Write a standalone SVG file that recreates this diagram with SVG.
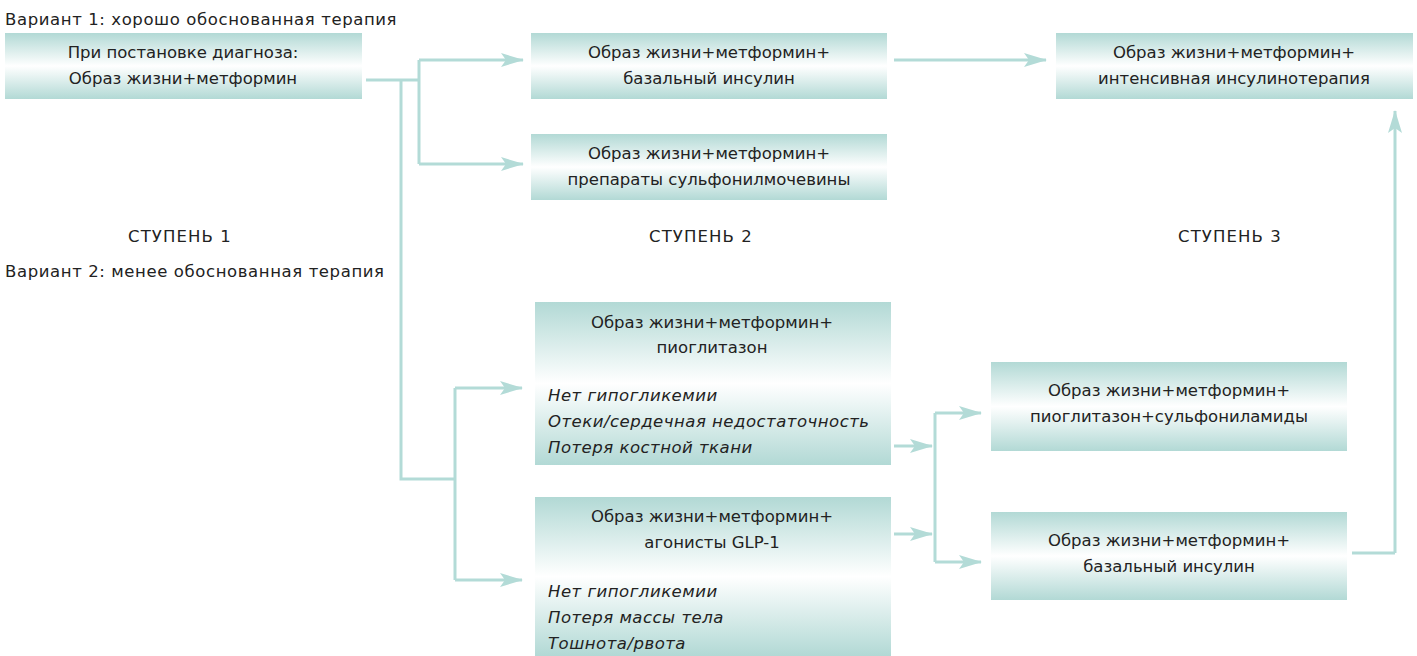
<svg xmlns="http://www.w3.org/2000/svg" width="1417" height="656" viewBox="0 0 1417 656">
<defs>
<linearGradient id="g" x1="0" y1="0" x2="0" y2="1">
<stop offset="0" stop-color="#b2d9d5"/>
<stop offset="0.5" stop-color="#ffffff"/>
<stop offset="1" stop-color="#b2d9d5"/>
</linearGradient>
<marker id="ah" markerUnits="userSpaceOnUse" markerWidth="24" markerHeight="14" refX="22" refY="7" orient="auto">
<path d="M0,0 L23,7 L0,14 L5,7 Z" fill="#b3dbd7"/>
</marker>
<style>
.box{fill:url(#g);}
.t{font-family:"DejaVu Sans",sans-serif;font-size:16.5px;fill:#222;text-anchor:middle;}
.s{font-family:"DejaVu Sans",sans-serif;font-size:16.5px;fill:#222;text-anchor:middle;letter-spacing:1.1px;}
.l{font-family:"DejaVu Sans",sans-serif;font-size:16.5px;fill:#222;letter-spacing:0.6px;}
.i{font-family:"DejaVu Sans",sans-serif;font-size:16.5px;fill:#222;font-style:italic;letter-spacing:0.5px;}
.c{fill:none;stroke:#b3dbd7;stroke-width:3;}
.a{fill:none;stroke:#b3dbd7;stroke-width:3;marker-end:url(#ah);}
</style>
</defs>
<rect width="1417" height="656" fill="#fff"/>
<g id="labels">
<text class="l" x="5" y="25">Вариант 1: хорошо обоснованная терапия</text>
<text class="s" x="180" y="242">СТУПЕНЬ 1</text>
<text class="s" x="701" y="242">СТУПЕНЬ 2</text>
<text class="s" x="1230" y="242">СТУПЕНЬ 3</text>
<text class="l" x="5" y="277">Вариант 2: менее обоснованная терапия</text>
</g>
<g id="connectors">
<path class="c" d="M366,80 H419 M419,60 V164 M401,80 V479 H455 M455,388 V580 M935,413 V562 M1352,553 H1395"/>
<path class="a" d="M419,60 H523"/>
<path class="a" d="M419,164 H523"/>
<path class="a" d="M894,60 H1046"/>
<path class="a" d="M455,388 H522"/>
<path class="a" d="M455,580 H522"/>
<path class="a" d="M894,446 H932"/>
<path class="a" d="M894,534 H932"/>
<path class="a" d="M935,413 H981"/>
<path class="a" d="M935,562 H981"/>
<path class="a" d="M1395,553 V111"/>
</g>
<g id="n1"><rect class="box" x="5" y="33" width="357" height="66"/>
<text class="t" x="183" y="58">При постановке диагноза:</text>
<text class="t" x="183" y="84">Образ жизни+метформин</text></g>
<g id="n2"><rect class="box" x="531" y="33" width="356" height="66"/>
<text class="t" x="709" y="58">Образ жизни+метформин+</text>
<text class="t" x="709" y="84">базальный инсулин</text></g>
<g id="n3"><rect class="box" x="531" y="134" width="356" height="66"/>
<text class="t" x="709" y="159">Образ жизни+метформин+</text>
<text class="t" x="709" y="185">препараты сульфонилмочевины</text></g>
<g id="n4"><rect class="box" x="1056" y="33" width="357" height="66"/>
<text class="t" x="1234" y="58">Образ жизни+метформин+</text>
<text class="t" x="1234" y="84">интенсивная инсулинотерапия</text></g>
<g id="n5"><rect class="box" x="535" y="302" width="356" height="163"/>
<text class="t" x="712" y="328">Образ жизни+метформин+</text>
<text class="t" x="712" y="353">пиоглитазон</text>
<text class="i" x="548" y="401">Нет гипогликемии</text>
<text class="i" x="548" y="427">Отеки/сердечная недостаточность</text>
<text class="i" x="548" y="453">Потеря костной ткани</text></g>
<g id="n6"><rect class="box" x="535" y="497" width="356" height="159"/>
<text class="t" x="712" y="522">Образ жизни+метформин+</text>
<text class="t" x="712" y="548">агонисты GLP-1</text>
<text class="i" x="548" y="597">Нет гипогликемии</text>
<text class="i" x="548" y="623">Потеря массы тела</text>
<text class="i" x="548" y="649">Тошнота/рвота</text></g>
<g id="n7"><rect class="box" x="991" y="362" width="356" height="89"/>
<text class="t" x="1169" y="396">Образ жизни+метформин+</text>
<text class="t" x="1169" y="422">пиоглитазон+сульфониламиды</text></g>
<g id="n8"><rect class="box" x="991" y="512" width="356" height="88"/>
<text class="t" x="1169" y="546">Образ жизни+метформин+</text>
<text class="t" x="1169" y="572">базальный инсулин</text></g>
</svg>
